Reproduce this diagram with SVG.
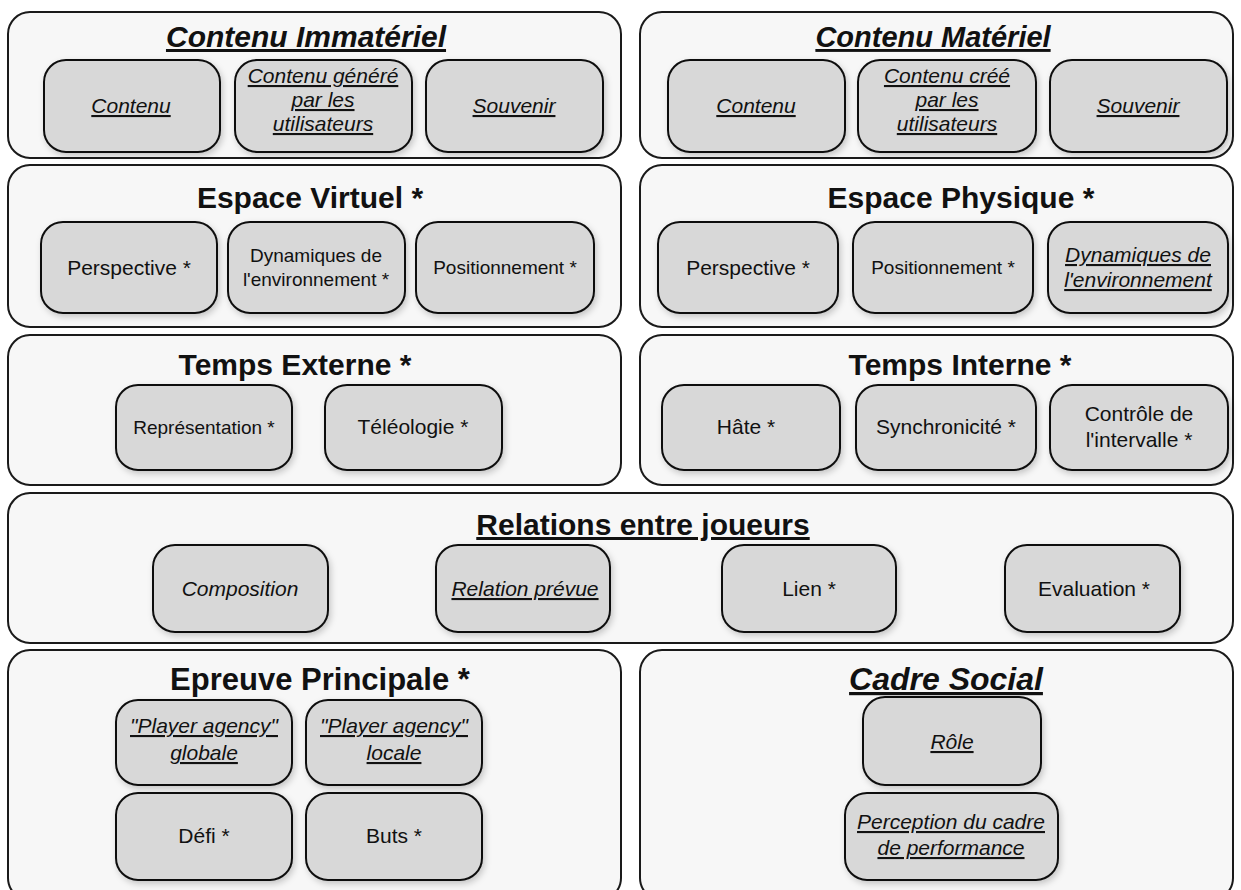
<svg xmlns="http://www.w3.org/2000/svg" width="1241" height="890" viewBox="0 0 1241 890">
<defs>
<filter id="sh" x="-10%" y="-10%" width="130%" height="130%">
<feDropShadow dx="2" dy="3" stdDeviation="3" flood-color="#000" flood-opacity="0.2"/>
</filter>
<style>
.outer{fill:#f7f7f7;stroke:#1a1a1a;stroke-width:2}
.inner{fill:#d8d8d8;stroke:#111;stroke-width:2;filter:url(#sh)}
text{font-family:"Liberation Sans",Arial,sans-serif;fill:#111;text-anchor:middle}
.t{font-size:30px;font-weight:bold}
.l{font-size:21px}
.s{font-size:19px}
.i{font-style:italic}
.u{text-decoration:underline}
</style>
</defs>
<rect width="1241" height="890" fill="#ffffff"/>

<g id="contenu-immateriel">
<rect class="outer" x="8" y="12" width="613" height="146" rx="22"/>
<text class="t i u" x="306" y="47">Contenu Immatériel</text>
</g>
<g id="ci-contenu"><rect class="inner" x="44" y="60" width="176" height="92" rx="22"/><text class="l i u" x="131" y="113">Contenu</text></g>
<g id="ci-genere"><rect class="inner" x="235" y="60" width="177" height="92" rx="22"/>
<text class="l i u" x="323" y="83">Contenu généré</text><text class="l i u" x="323" y="107">par les</text><text class="l i u" x="323" y="131">utilisateurs</text></g>
<g id="ci-souvenir"><rect class="inner" x="426" y="60" width="177" height="92" rx="22"/><text class="l i u" x="514" y="113">Souvenir</text></g>

<g id="contenu-materiel">
<rect class="outer" x="640" y="12" width="593" height="146" rx="22"/>
<text class="t i u" x="933" y="47" style="font-size:29px">Contenu Matériel</text>
</g>
<g id="cm-contenu"><rect class="inner" x="668" y="60" width="177" height="92" rx="22"/><text class="l i u" x="756" y="113">Contenu</text></g>
<g id="cm-cree"><rect class="inner" x="858" y="60" width="178" height="92" rx="22"/>
<text class="l i u" x="947" y="83">Contenu créé</text><text class="l i u" x="947" y="107">par les</text><text class="l i u" x="947" y="131">utilisateurs</text></g>
<g id="cm-souvenir"><rect class="inner" x="1050" y="60" width="177" height="92" rx="22"/><text class="l i u" x="1138" y="113">Souvenir</text></g>

<g id="espace-virtuel">
<rect class="outer" x="8" y="165" width="613" height="162" rx="22"/>
<text class="t" x="310" y="208">Espace Virtuel *</text>
</g>
<g id="ev-perspective"><rect class="inner" x="41" y="222" width="176" height="91" rx="22"/><text class="l" x="129" y="275">Perspective *</text></g>
<g id="ev-dynamiques"><rect class="inner" x="228" y="222" width="177" height="91" rx="22"/>
<text class="s" x="316" y="262">Dynamiques de</text><text class="s" x="316" y="286">l'environnement *</text></g>
<g id="ev-positionnement"><rect class="inner" x="416" y="222" width="178" height="91" rx="22"/><text class="s" x="505" y="274">Positionnement *</text></g>

<g id="espace-physique">
<rect class="outer" x="640" y="165" width="593" height="162" rx="22"/>
<text class="t" x="961" y="208">Espace Physique *</text>
</g>
<g id="ep-perspective"><rect class="inner" x="658" y="222" width="180" height="91" rx="22"/><text class="l" x="748" y="275">Perspective *</text></g>
<g id="ep-positionnement"><rect class="inner" x="853" y="222" width="180" height="91" rx="22"/><text class="s" x="943" y="274">Positionnement *</text></g>
<g id="ep-dynamiques"><rect class="inner" x="1048" y="222" width="180" height="91" rx="22"/>
<text class="l i u" x="1138" y="262">Dynamiques de</text><text class="l i u" x="1138" y="287">l'environnement</text></g>

<g id="temps-externe">
<rect class="outer" x="8" y="335" width="613" height="150" rx="22"/>
<text class="t" x="295" y="375">Temps Externe *</text>
</g>
<g id="te-representation"><rect class="inner" x="116" y="385" width="176" height="85" rx="22"/><text class="s" x="204" y="434">Représentation *</text></g>
<g id="te-teleologie"><rect class="inner" x="325" y="385" width="177" height="85" rx="22"/><text class="l" x="413" y="434">Téléologie *</text></g>

<g id="temps-interne">
<rect class="outer" x="640" y="335" width="593" height="150" rx="22"/>
<text class="t" x="960" y="375">Temps Interne *</text>
</g>
<g id="ti-hate"><rect class="inner" x="662" y="385" width="178" height="85" rx="22"/><text class="l" x="746" y="434">Hâte *</text></g>
<g id="ti-synchronicite"><rect class="inner" x="856" y="385" width="180" height="85" rx="22"/><text class="l" x="946" y="434">Synchronicité *</text></g>
<g id="ti-controle"><rect class="inner" x="1050" y="385" width="178" height="85" rx="22"/>
<text class="l" x="1139" y="421">Contrôle de</text><text class="l" x="1139" y="447">l'intervalle *</text></g>

<g id="relations">
<rect class="outer" x="8" y="493" width="1225" height="150" rx="22"/>
<text class="t u" x="643" y="535">Relations entre joueurs</text>
</g>
<g id="r-composition"><rect class="inner" x="153" y="545" width="175" height="87" rx="22"/><text class="l i" x="240" y="596">Composition</text></g>
<g id="r-relation"><rect class="inner" x="436" y="545" width="174" height="87" rx="22"/><text class="l i u" x="525" y="596">Relation prévue</text></g>
<g id="r-lien"><rect class="inner" x="722" y="545" width="174" height="87" rx="22"/><text class="l" x="809" y="596">Lien *</text></g>
<g id="r-evaluation"><rect class="inner" x="1005" y="545" width="175" height="87" rx="22"/><text class="l" x="1094" y="596">Evaluation *</text></g>

<g id="epreuve">
<rect class="outer" x="8" y="650" width="613" height="250" rx="22"/>
<text class="t" x="320" y="690" style="font-size:31px">Epreuve Principale *</text>
</g>
<g id="e-globale"><rect class="inner" x="116" y="700" width="176" height="85" rx="22"/>
<text class="l i u" x="204" y="733">"Player agency"</text><text class="l i u" x="204" y="760">globale</text></g>
<g id="e-locale"><rect class="inner" x="306" y="700" width="176" height="85" rx="22"/>
<text class="l i u" x="394" y="733">"Player agency"</text><text class="l i u" x="394" y="760">locale</text></g>
<g id="e-defi"><rect class="inner" x="116" y="793" width="176" height="87" rx="22"/><text class="l" x="204" y="843">Défi *</text></g>
<g id="e-buts"><rect class="inner" x="306" y="793" width="176" height="87" rx="22"/><text class="l" x="394" y="843">Buts *</text></g>

<g id="cadre-social">
<rect class="outer" x="640" y="650" width="593" height="250" rx="22"/>
<text class="t i u" x="946" y="690" style="font-size:32px">Cadre Social</text>
</g>
<g id="cs-role"><rect class="inner" x="863" y="697" width="178" height="88" rx="22"/><text class="l i u" x="952" y="749">Rôle</text></g>
<g id="cs-perception"><rect class="inner" x="845" y="793" width="213" height="87" rx="22"/>
<text class="l i u" x="951" y="829">Perception du cadre</text><text class="l i u" x="951" y="855">de performance</text></g>

<g id="connectors"></g>
</svg>
